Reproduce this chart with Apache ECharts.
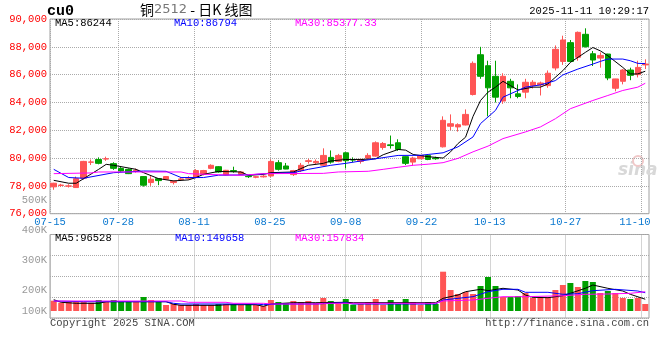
<!DOCTYPE html>
<html><head><meta charset="utf-8">
<script src="https://cdn.jsdelivr.net/npm/echarts@6/dist/echarts.min.js"></script>
<style>html,body{margin:0;padding:0;background:#fff}#c{width:660px;height:360px}</style>
</head><body><div id="c"></div>
<script>
const dates = ['07-15','07-16','07-17','07-18','07-21','07-22','07-23','07-24','07-25','07-28','07-29','07-30','07-31','08-01','08-04','08-05','08-06','08-07','08-08','08-11','08-12','08-13','08-14','08-15','08-18','08-19','08-20','08-21','08-22','08-25','08-26','08-27','08-28','08-29','09-01','09-02','09-03','09-04','09-05','09-08','09-09','09-10','09-11','09-12','09-15','09-16','09-17','09-18','09-19','09-22','09-23','09-24','09-25','09-26','09-29','09-30','10-09','10-10','10-13','10-14','10-15','10-16','10-17','10-20','10-21','10-22','10-23','10-24','10-27','10-28','10-29','10-30','10-31','11-03','11-04','11-05','11-06','11-07','11-10','11-11'];
const opens  = [77930,78030,77980,77880,78550,79700,79900,79930,79600,79260,79190,79050,78670,78240,78520,78480,78240,78450,78550,78600,78830,79260,79380,78790,79100,78830,78700,78620,78650,78710,79670,79430,78810,79100,79760,79660,79480,80050,79760,80380,79880,79760,80000,80140,80760,80950,81100,80100,79710,79950,80190,80000,80810,82290,82240,82380,84570,87430,86640,85880,84100,85520,84620,84740,85210,85260,85210,86480,86950,88300,87250,88900,87500,87190,87480,85020,85520,86330,86000,86700];
const closes = [78190,78060,78000,78520,79760,79720,79620,79950,79260,79070,78880,79120,78050,78480,78380,78670,78330,78500,78600,79100,79100,79480,79000,79120,79050,79000,78660,78660,78700,79760,79190,79210,79100,79480,79810,79760,80190,79710,80190,79810,79860,79900,80190,81100,81050,80900,80620,79620,80000,80190,79900,79950,82714,82470,82400,83140,86810,85880,85050,84380,85880,85050,84430,85450,85450,85400,86100,87820,88490,86950,89040,88010,87050,87380,85760,85690,86330,85950,86520,86760];
const lows   = [77720,77930,77880,77860,78450,79500,79550,79800,79150,79000,78850,78950,77950,78000,78050,78450,78100,78350,78450,78550,78750,79200,78950,78760,78950,78800,78570,78550,78600,78650,79100,79200,78710,79000,79600,79550,79450,79600,79700,79250,79700,79600,79900,80100,80600,80680,80520,79500,79450,79950,79850,79880,80760,82000,81900,82350,84500,85700,83000,84000,83900,84300,84300,84300,85000,84500,85050,86300,86700,86900,87000,87950,86620,86500,85600,84800,85300,85600,85800,86400];
const highs  = [78220,78150,78120,78670,79800,79900,80050,80100,79700,79350,79250,79250,78700,78700,78550,78700,78400,78620,78700,79200,79150,79550,79420,79150,79380,79050,78720,78700,78800,79900,79850,79650,79150,79650,79950,79900,80700,80550,80300,80420,80050,79950,80350,81200,81150,81620,81350,80120,80100,80200,80250,80100,83000,83140,82500,83500,86950,88000,87000,87000,86100,85700,85300,85700,85600,85500,86300,88100,88800,88490,89100,89330,87700,87600,87500,85700,86400,86500,87000,87100];
const volumes = [84500,68000,73800,73800,73800,68000,90200,73800,90200,73800,73800,73800,114800,90200,73800,49200,57400,49200,49200,57400,49200,49200,57400,57400,57400,49200,57400,49200,41000,90200,73800,65600,82000,73800,82000,65600,106600,82000,65600,98400,51700,57400,73800,98400,51700,90200,57400,98400,73800,51700,73800,57400,322300,172200,139400,155800,139400,205000,278800,205000,114800,114800,123000,147600,106600,114800,114800,172200,213200,229600,196800,246000,237800,147600,164000,147600,106600,98400,106600,57400];
const ma5  = [[0,78400],[2,78190],[3,78190],[6,79190],[7,79550],[8,79480],[11,79190],[12,78950],[14,78520],[16,78360],[18,78430],[19,78600],[20,78830],[22,79040],[25,79000],[26,78760],[28,78830],[29,78950],[32,79000],[33,79240],[34,79480],[36,79620],[37,79790],[39,79900],[41,79900],[43,79950],[44,80240],[46,80620],[47,80570],[48,80260],[50,80100],[52,80000],[53,80450],[54,81050],[55,81500],[56,83000],[57,84140],[58,84740],[59,85100],[60,85520],[61,85210],[62,84900],[64,85100],[65,85100],[66,85330],[68,86290],[69,86880],[71,87600],[72,87950],[73,87710],[74,87360],[76,86520],[77,86050],[78,86050],[79,86244]];
const ma10 = [[0,79190],[2,78600],[4,78550],[8,78950],[12,79070],[15,79050],[17,78600],[20,78600],[22,78770],[26,78790],[29,78900],[32,78950],[34,79190],[37,79480],[39,79620],[41,79790],[43,79950],[46,80190],[49,80200],[50,80260],[52,80380],[54,80810],[56,81520],[57,82480],[59,83430],[60,84380],[61,84620],[63,85100],[65,85260],[67,85570],[68,85980],[70,86400],[72,86760],[73,86950],[74,87120],[76,87120],[77,87000],[78,86810],[79,86794]];
const ma30 = [[0,78880],[5,78930],[6,79000],[17,79000],[18,78880],[22,78800],[25,78760],[28,78880],[36,78900],[38,79000],[42,79050],[44,79190],[46,79340],[48,79480],[50,79560],[52,79670],[54,79980],[56,80450],[58,80860],[60,81400],[63,81880],[65,82240],[67,82830],[69,83550],[72,84140],[74,84500],[76,84860],[78,85100],[79,85377]];
const volMa5  = [[0,92700],[1,71300],[3,63100],[6,63100],[7,76300],[15,76300],[16,54900],[17,46700],[22,46700],[23,51700],[27,51700],[28,38500],[29,57400],[32,68100],[35,68100],[39,71300],[40,68100],[51,68100],[52,104100],[54,131200],[55,158300],[57,177900],[58,166500],[60,186100],[62,172200],[63,131200],[64,112300],[66,109100],[68,125500],[69,145100],[71,186100],[72,213200],[74,186100],[76,164000],[77,136900],[79,96528]];
const volMa10 = [[0,82000],[4,76300],[15,76300],[16,63100],[17,57400],[27,57400],[28,51700],[30,57400],[35,57400],[39,68100],[40,57400],[51,57400],[52,90200],[54,104100],[56,117300],[58,158300],[60,177900],[62,177900],[63,153300],[66,153300],[68,136900],[70,141900],[72,166500],[75,177900],[78,164000],[79,149658]];
const volMa30 = [[0,82000],[17,82000],[18,71300],[23,71300],[24,63100],[28,63100],[29,57400],[35,57400],[36,63100],[40,63100],[51,63100],[52,82000],[56,90200],[58,104100],[60,117300],[63,117300],[68,125500],[71,136900],[74,139400],[77,145100],[79,157834]];
const labelDates = ['07-15','07-28','08-11','08-25','09-08','09-22','10-13','10-27','11-10'];
const volTickValues = [130000,200000,300000,400000,500000];
const volTickLabels = ['100K','200K','300K','400K','500K'];

const mono = "'Liberation Mono','DejaVu Sans Mono',monospace";
const RED = '#ff5555', GREEN = '#00a000';
const gridLine = {lineStyle:{color:'#aaaaaa', type:'dotted', width:1}};
const isLabel = (i, v) => labelDates.includes(v);
const lastLabel = labelDates[labelDates.length - 1];
const txt = (text, left, top, color, extra) => Object.assign({text, left, top, padding:0,
  textStyle:{fontFamily:mono, fontSize:10.5, fontWeight:'normal', color}}, extra || {});

const chart = echarts.init(document.getElementById('c'));
chart.setOption({
  animation:false,
  backgroundColor:'#fff',
  title:[
    txt('cu0', 47, 4, '#000', {textStyle:{fontFamily:mono, fontSize:15, fontWeight:'bold', color:'#000'}}),
    txt('铜{g|2512} - 日K 线图', 140, 3, '#000', {textStyle:{fontFamily:"'Noto Sans CJK SC'", fontSize:14, fontWeight:'normal', color:'#000', rich:{g:{fontFamily:"'DejaVu Sans'", fontSize:13, color:'#777'}}}}),
    {text:'2025-11-11 10:29:17', right:11, top:6, padding:0, textStyle:{fontFamily:mono, fontSize:10.5, fontWeight:'normal', color:'#000'}},
    txt('MA5:86244', 55, 18, '#000'),
    txt('MA10:86794', 174, 18, '#0000ff'),
    txt('MA30:85377.33', 295, 18, '#ff00ff'),
    txt('MA5:96528', 55, 233, '#000'),
    txt('MA10:149658', 175, 233, '#0000ff'),
    txt('MA30:157834', 295, 233, '#ff00ff'),
    txt('Copyright 2025 SINA.COM', 50, 318, '#444'),
    {text:'http://finance.sina.com.cn', right:11, top:318, padding:0, textStyle:{fontFamily:mono, fontSize:10.5, fontWeight:'normal', color:'#444'}}
  ],
  graphic:[
    {type:'text', left:618, top:162, z:0, style:{text:'sina', fill:'#d8d8d8', font:"italic bold 17px 'DejaVu Sans'"}},
    {type:'circle', shape:{cx:638, cy:161, r:5}, z:0, style:{fill:'none', stroke:'#f0c8c8', lineWidth:2}}
  ],
  grid:[
    {left:50, right:11, top:19, height:194.7, show:true, borderColor:'#a0a0a0', borderWidth:1},
    {left:50, right:11, top:234.5, height:83.5, show:true, borderColor:'#a0a0a0', borderWidth:1},
    {left:50, right:11, top:200.3, height:120, show:false}
  ],
  xAxis:[
    {gridIndex:0, type:'category', data:dates, boundaryGap:true, show:false, position:'top'},
    {gridIndex:0, type:'category', data:dates, boundaryGap:false, position:'bottom', axisLine:{show:false}, axisTick:{show:false},
      axisLabel:{interval:isLabel, color:'#0a78d0', fontFamily:mono, fontSize:10.5, margin:3, hideOverlap:false,
        formatter: v => v === lastLabel ? '{r|' + v + '}' : v,
        rich:{r:{color:'#0a78d0', fontFamily:mono, fontSize:10.5, padding:[0,13,0,0]}}},
      splitLine:Object.assign({show:true, interval:isLabel}, gridLine)},
    {gridIndex:1, type:'category', data:dates, boundaryGap:true, show:false, position:'top'},
    {gridIndex:1, type:'category', data:dates, boundaryGap:false, position:'bottom', axisLine:{show:false}, axisTick:{show:false}, axisLabel:{show:false},
      splitLine:Object.assign({show:true, interval:isLabel}, gridLine)},
    {gridIndex:2, type:'category', data:dates, show:false}
  ],
  yAxis:[
    {gridIndex:0, type:'value', min:76000, max:90000, interval:2000, axisLine:{show:false}, axisTick:{show:false},
      axisLabel:{color:'#ff0000', fontFamily:mono, fontSize:10.5, margin:3, padding:[0,0,4,0]},
      splitLine:gridLine},
    {gridIndex:1, type:'value', min:-57400, max:627300, interval:171175, axisLine:{show:false}, axisTick:{show:false},
      axisLabel:{show:false}, splitLine:gridLine},
    {gridIndex:2, type:'value', min:100000, max:500000, axisLine:{show:false}, axisTick:{show:false}, splitLine:{show:false},
      axisLabel:{customValues:volTickValues, formatter:v => volTickLabels[volTickValues.indexOf(v)] || '',
        color:'#999', fontFamily:mono, fontSize:10.5, margin:3}}
  ],
  series:[
    {type:'candlestick', xAxisIndex:0, yAxisIndex:0, barWidth:6,
      data:opens.map((o,i)=>[o, closes[i], lows[i], highs[i]]),
      itemStyle:{color:RED, color0:GREEN, borderColor:RED, borderColor0:GREEN, borderWidth:1}},
    {type:'line', xAxisIndex:0, yAxisIndex:0, data:ma5, symbol:'none', z:4, lineStyle:{color:'#000', width:1}},
    {type:'line', xAxisIndex:0, yAxisIndex:0, data:ma10, symbol:'none', z:4, lineStyle:{color:'#0000ff', width:1}},
    {type:'line', xAxisIndex:0, yAxisIndex:0, data:ma30, symbol:'none', z:4, lineStyle:{color:'#ff00ff', width:1}},
    {type:'bar', xAxisIndex:2, yAxisIndex:1, barWidth:6,
      data:volumes.map((v,i)=>({value:v, itemStyle:{color: closes[i] >= opens[i] ? RED : GREEN}}))},
    {type:'line', xAxisIndex:2, yAxisIndex:1, data:volMa5, symbol:'none', z:4, lineStyle:{color:'#000', width:1}},
    {type:'line', xAxisIndex:2, yAxisIndex:1, data:volMa10, symbol:'none', z:4, lineStyle:{color:'#0000ff', width:1}},
    {type:'line', xAxisIndex:2, yAxisIndex:1, data:volMa30, symbol:'none', z:4, lineStyle:{color:'#ff00ff', width:1}}
  ]
});
</script></body></html>
